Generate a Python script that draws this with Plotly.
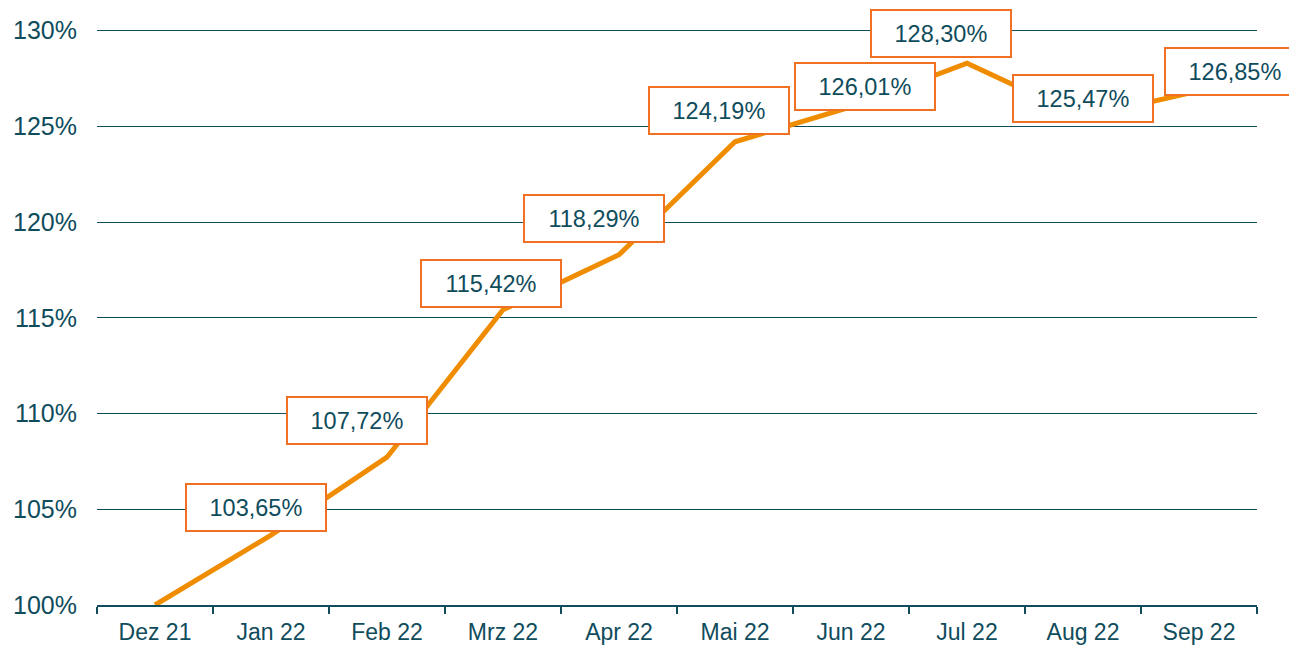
import plotly.graph_objects as go

categories = ["Dez 21", "Jan 22", "Feb 22", "Mrz 22", "Apr 22", "Mai 22",
              "Jun 22", "Jul 22", "Aug 22", "Sep 22"]
values = [100.0, 103.65, 107.72, 115.42, 118.29, 124.19, 126.01, 128.30, 125.47, 126.85]
label_texts = ["", "103,65%", "107,72%", "115,42%", "118,29%", "124,19%",
               "126,01%", "128,30%", "125,47%", "126,85%"]
y_ticks = [100, 105, 110, 115, 120, 125, 130]
y_tick_labels = ["100%", "105%", "110%", "115%", "120%", "125%", "130%"]

# label offsets in pixels (styling)
label_dx = [0, -15, -30, -12, -25, -16, 14, -26, 0, 36]
label_dy = [0, 28, 37, 26, 36, 31, 20, 30, 19, 19]

TEAL = "#0F4C5C"
ORANGE_LINE = "#EF8C00"
ORANGE_BOX = "#F07024"
FONT = "Liberation Sans, Arial, sans-serif"

fig = go.Figure()
fig.add_trace(go.Scatter(
    x=categories, y=values, mode="lines",
    line=dict(color=ORANGE_LINE, width=5),
    cliponaxis=False, hoverinfo="skip", showlegend=False,
))

for i, (c, v, t) in enumerate(zip(categories, values, label_texts)):
    if not t:
        continue
    fig.add_annotation(
        x=c, y=v, xref="x", yref="y", text=t, showarrow=False,
        xshift=label_dx[i], yshift=label_dy[i],
        font=dict(family=FONT, size=23.5, color=TEAL),
        bgcolor="white", bordercolor=ORANGE_BOX, borderwidth=2, borderpad=0,
        width=138, height=45,
    )

fig.update_layout(
    width=1289, height=637,
    margin=dict(l=89, r=40, t=13.43, b=40, autoexpand=False),
    plot_bgcolor="white", paper_bgcolor="white",
    font=dict(family=FONT, color=TEAL),
    showlegend=False,
)
fig.update_xaxes(
    type="category", categoryorder="array", categoryarray=categories,
    range=[-0.5, len(categories) - 0.5], automargin=False,
    showgrid=False, showline=True, linecolor=TEAL, linewidth=1.5,
    ticks="outside", tickson="boundaries", ticklen=7, tickcolor=TEAL, tickwidth=1.5,
    tickfont=dict(size=23, color=TEAL), zeroline=False, ticklabelstandoff=6,
)
fig.update_yaxes(
    range=[100, 130.5], tickvals=y_ticks, ticktext=y_tick_labels, automargin=False,
    showgrid=True, gridcolor=TEAL, gridwidth=1, zeroline=False, showline=False,
    tickfont=dict(size=25, color=TEAL), ticks="", ticklabelstandoff=19,
)

fig.write_html("out.html")
